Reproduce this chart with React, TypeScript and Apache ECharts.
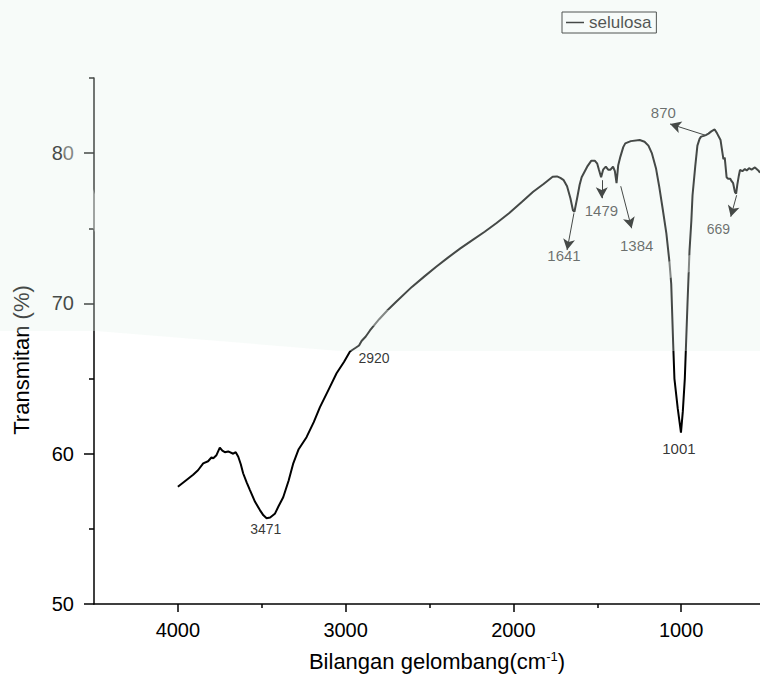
import React, { useEffect, useRef } from "react";
import * as echarts from "echarts";

// Spectrum (wavenumber cm-1, transmittance %)
const wavenumber = [
  4000, 3960, 3909, 3880, 3849, 3820, 3800, 3789, 3770, 3750, 3735, 3720, 3700, 3670, 3655, 3640, 3625, 3611,
  3590, 3571, 3540, 3511, 3490, 3471, 3450, 3422, 3400, 3372, 3340, 3312, 3280, 3233, 3190, 3153, 3100, 3054,
  3010, 2974, 2940, 2920, 2905, 2880, 2855, 2800, 2749, 2700, 2605, 2530, 2460, 2390, 2316, 2240, 2171, 2100,
  2026, 1950, 1882, 1820, 1766, 1740, 1720, 1700, 1680, 1660, 1645, 1636, 1620, 1605, 1593, 1560, 1535, 1515,
  1500, 1490, 1477, 1465, 1449, 1435, 1421, 1406, 1395, 1385, 1375, 1362, 1345, 1333, 1300, 1247, 1218, 1195,
  1174, 1150, 1131, 1110, 1088, 1070, 1059, 1048, 1040, 1020, 1001, 990, 978, 970, 962, 950, 939, 932, 916,
  903, 890, 881, 865, 853, 837, 820, 800, 785, 765, 748, 740, 729, 720, 707, 700, 690, 679, 672, 665, 656, 649,
  635, 620, 609, 595, 580, 560, 540, 530,
];
const transmittance = [
  57.8, 58.15, 58.6, 58.9, 59.36, 59.5, 59.75, 59.7, 59.9, 60.4, 60.2, 60.1, 60.15, 60.0, 60.1, 59.8, 59.3, 58.7,
  58.1, 57.6, 56.8, 56.25, 55.9, 55.7, 55.75, 56.0, 56.5, 57.1, 58.2, 59.36, 60.3, 61.1, 62.1, 63.1, 64.3, 65.35,
  66.1, 66.8, 67.05, 67.2, 67.5, 67.8, 68.2, 68.95, 69.56, 70.1, 71.1, 71.8, 72.44, 73.05, 73.66, 74.25, 74.77, 75.35,
  76.0, 76.75, 77.43, 77.95, 78.43, 78.45, 78.35, 78.2, 77.8, 77.0, 76.2, 76.1, 77.0, 77.9, 78.4, 79.1, 79.5, 79.5,
  79.3, 78.9, 78.4, 78.9, 79.1, 78.9, 78.9, 79.1, 78.8, 78.0, 79.2, 79.77, 80.4, 80.65, 80.8, 80.87, 80.76, 80.5,
  79.98, 79.0, 77.8, 76.3, 74.66, 72.8, 71.3, 67.5, 65.0, 63.0, 61.4, 62.8, 65.0, 67.5, 70.0, 73.5, 75.5, 77.2, 79.1,
  80.5, 80.95, 81.1, 81.15, 81.2, 81.3, 81.45, 81.58, 81.3, 80.87, 79.6, 79.7, 78.4, 78.3, 78.3, 78.15, 78.0, 77.4, 77.3, 77.9, 78.5, 78.88,
  78.8, 78.95, 78.85, 79.0, 78.9, 79.05, 78.85, 78.7,
];

// Peak labels
const peakLabels = ["3471", "2920", "1641", "1479", "1384", "1001", "870", "669"];
const peakLabelWn = [3476, 2831, 1698, 1475, 1265, 1013, 1106, 778];
const peakLabelT = [54.99, 66.4, 73.22, 76.21, 73.84, 60.38, 82.7, 74.94];
const peakLabelSize = [14, 14, 15, 15, 15, 15, 15, 14];

// Arrows (from -> to, arrow head at "to")
const arrowFromWn = [1639, 1473, 1360, 858, 669];
const arrowFromT = [76.0, 78.2, 77.8, 81.2, 77.2];
const arrowToWn = [1680, 1473, 1295, 1066, 704];
const arrowToT = [73.55, 77.0, 75.0, 81.94, 75.77];

// Axis ticks
const xMajorTicks = [1000, 2000, 3000, 4000];
const xMinorTicks = [1500, 2500, 3500];
const yMajorTicks = [50, 60, 70, 80];
const yMinorTicks = [55, 65, 75, 85];

export default function App() {
  const ref = useRef<HTMLDivElement>(null);
  useEffect(() => {
    if (!ref.current) return;
    const chart = echarts.init(ref.current, null, { renderer: "svg" });
    const spectrum = wavenumber.map((w, i) => [w, transmittance[i]]);
    const labelData = peakLabels.map((t, i) => ({
      name: t,
      value: [peakLabelWn[i], peakLabelT[i]],
      label: { fontSize: peakLabelSize[i] },
    }));
    const arrows = arrowFromWn.map((w, i) => [
      { coord: [w, arrowFromT[i]] },
      { coord: [arrowToWn[i], arrowToT[i]] },
    ]);
    const font = "Liberation Sans, Arial, sans-serif";
    const plain = (v: number) => String(v);
    const xBase = {
      type: "value",
      inverse: true,
      min: 500,
      max: 4500,
      position: "bottom",
      splitLine: { show: false },
    };
    const yBase = {
      type: "value",
      min: 50,
      max: 85,
      position: "left",
      splitLine: { show: false },
    };
    chart.setOption({
      animation: false,
      backgroundColor: "#ffffff",
      textStyle: { fontFamily: font },
      grid: { left: 94, right: 1, top: 78, bottom: 89, outerBoundsMode: "none", containLabel: false },
      legend: {
        left: 562,
        top: 12,
        data: [{ name: "selulosa", icon: "rect" }],
        itemWidth: 18,
        itemHeight: 1.5,
        borderColor: "#111",
        borderWidth: 1,
        borderRadius: 0,
        padding: [2, 5, 2, 4],
        textStyle: { fontSize: 17, color: "#111", fontFamily: font },
      },
      xAxis: [
        {
          ...xBase,
          name: "{n|Bilangan gelombang(cm}{s|-1}{n|)}",
          nameLocation: "middle",
          nameGap: 46,
          nameTextStyle: {
            padding: [0, 0, 0, 15],
            rich: {
              n: { fontSize: 22, color: "#000", fontFamily: font },
              s: { fontSize: 13, color: "#000", fontFamily: font, verticalAlign: "top" },
            },
          },
          axisLine: { show: true, onZero: false, lineStyle: { color: "#000", width: 1.5 } },
          axisTick: { show: true, length: 8, customValues: xMajorTicks, lineStyle: { color: "#000", width: 1.5 } },
          axisLabel: { show: true, customValues: xMajorTicks, formatter: plain, margin: 16, fontSize: 20, color: "#000", fontFamily: font },
        },
        {
          ...xBase,
          axisLine: { show: false },
          axisTick: { show: true, length: 4, customValues: xMinorTicks, lineStyle: { color: "#000", width: 1.5 } },
          axisLabel: { show: false },
        },
      ],
      yAxis: [
        {
          ...yBase,
          name: "Transmitan (%)",
          nameLocation: "middle",
          nameGap: 62,
          nameTextStyle: { fontSize: 22, color: "#000", fontFamily: font, padding: [0, 38, 0, 0] },
          axisLine: { show: true, onZero: false, lineStyle: { color: "#000", width: 1.5 } },
          axisTick: { show: true, length: 10, customValues: yMajorTicks, lineStyle: { color: "#000", width: 1.5 } },
          axisLabel: { show: true, customValues: yMajorTicks, formatter: plain, margin: 20, fontSize: 20, color: "#000", fontFamily: font },
        },
        {
          ...yBase,
          axisLine: { show: false },
          axisTick: { show: true, length: 5, customValues: yMinorTicks, lineStyle: { color: "#000", width: 1.5 } },
          axisLabel: { show: false },
        },
      ],
      series: [
        {
          name: "selulosa",
          type: "line",
          data: spectrum,
          showSymbol: false,
          symbol: "none",
          lineStyle: { color: "#000", width: 2 },
          itemStyle: { color: "#000" },
          markLine: {
            silent: true,
            symbol: ["none", "arrow"],
            symbolSize: [9, 11],
            label: { show: false },
            lineStyle: { color: "#000", width: 1, type: "solid" },
            data: arrows,
          },
        },
        {
          name: "labels",
          type: "scatter",
          data: labelData,
          symbolSize: 1,
          itemStyle: { color: "rgba(0,0,0,0)" },
          label: { show: true, position: "inside", formatter: "{b}", color: "#000", fontFamily: font },
          silent: true,
        },
      ],
      graphic: [
        {
          type: "polyline",
          z: 100,
          silent: true,
          shape: {
            points: [[20, 0], [60, 120], [121, 257], [194, 293], [388, 318], [582, 293], [760, 240]],
            smooth: 0.4,
          },
          style: { stroke: "rgba(255,255,255,0.35)", lineWidth: 16, fill: null },
        },
        {
          type: "polygon",
          z: 101,
          silent: true,
          shape: { points: [[0, 0], [760, 0], [760, 351], [340, 351], [96, 331], [0, 331]] },
          style: { fill: "rgba(228,243,234,0.3)" },
        },
      ],
    });
    return () => chart.dispose();
  }, []);
  return (
    <div style={{ position: "absolute", left: 0, top: 0, width: 760, height: 693, overflow: "hidden" }}>
      <div ref={ref} style={{ width: 766, height: 693 }} />
    </div>
  );
}
